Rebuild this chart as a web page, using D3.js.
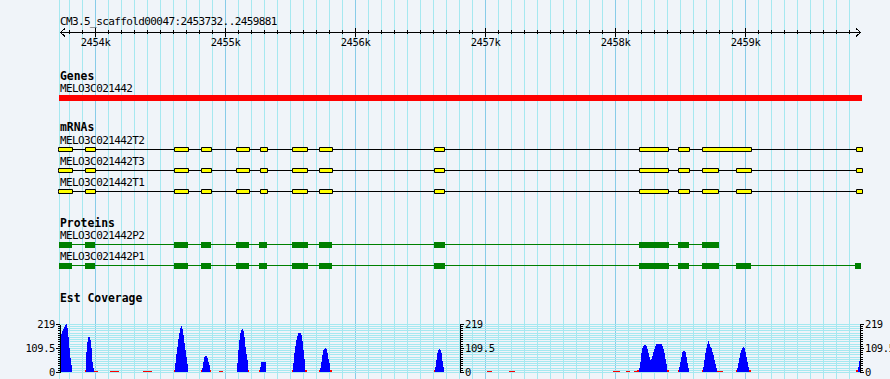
<!DOCTYPE html>
<html><head><meta charset="utf-8">
<script src="https://cdn.jsdelivr.net/npm/d3@7"></script>
<style>
html,body{margin:0;padding:0;background:#f0f4f9;}
svg{display:block;}
text{font-family:"DejaVu Sans Mono","Liberation Mono",monospace;}
</style></head><body>
<svg id="c" width="890" height="379"></svg>
<script>
// ---------- data ----------
const regionName = "CM3.5_scaffold00047";
const regionStart = 2453732, regionEnd = 2459881;
const majorTicks = [2454000, 2455000, 2456000, 2457000, 2458000, 2459000];
const minorStep = 100;

const geneNames = ["MELO3C021442"];
const geneSpans = [[2453717, 2459897]];

const mrnaNames = ["MELO3C021442T2", "MELO3C021442T3", "MELO3C021442T1"];
const mrnaSpans = [[2453717, 2459895], [2453717, 2459895], [2453717, 2459895]];
const exonsT2 = [[2453717,2453814],[2453924,2453994],[2454609,2454707],[2454815,2454884],[2455089,2455177],[2455270,2455316],[2455520,2455628],[2455725,2455815],[2456609,2456680],[2458186,2458404],[2458490,2458563],[2458675,2459040],[2459856,2459895]];
const exonsT3 = [[2453717,2453814],[2453924,2453994],[2454609,2454707],[2454815,2454884],[2455089,2455177],[2455270,2455316],[2455520,2455628],[2455725,2455815],[2456609,2456680],[2458186,2458404],[2458490,2458563],[2458675,2458790],[2458937,2459040],[2459856,2459895]];
const exonsT1 = [[2453717,2453814],[2453924,2453994],[2454609,2454707],[2454815,2454884],[2455089,2455177],[2455270,2455316],[2455520,2455628],[2455725,2455815],[2456609,2456680],[2458186,2458404],[2458490,2458563],[2458675,2458790],[2458937,2459040],[2459856,2459895]];

const proteinNames = ["MELO3C021442P2", "MELO3C021442P1"];
const proteinSpans = [[2453720, 2458796], [2453720, 2459890]];
const cdsP2 = [[2453720,2453817],[2453917,2453994],[2454602,2454709],[2454809,2454886],[2455079,2455179],[2455256,2455317],[2455510,2455633],[2455717,2455818],[2456603,2456687],[2458179,2458410],[2458479,2458564],[2458665,2458796]];
const cdsP1 = [[2453720,2453817],[2453917,2453994],[2454602,2454709],[2454809,2454886],[2455079,2455179],[2455256,2455317],[2455510,2455633],[2455717,2455818],[2456603,2456687],[2458179,2458410],[2458479,2458564],[2458665,2458796],[2458927,2459043],[2459843,2459890]];

// EST coverage: runs of consecutive bins (bin width in bp)
const coverageMax = 219;
const coverageBin = 7.696;
const coverageRunStarts = [2453724, 2453917, 2454109, 2454363, 2454602, 2454809, 2454948, 2455086, 2455256, 2455510, 2455718, 2456603, 2457011, 2457180, 2457980, 2458080, 2458142, 2458480, 2458665, 2458927, 2459850];
const coverageRunValues = [
  [173,173,188,196,204,214,219,199,161,108,62,32],
  [8,93,138,158,161,146,108,47,18,6,6,6,6],
  [5,5,5,5,5,5,5,5,5],
  [5,5,5,5,5,5,5,5,5],
  [8,40,80,115,150,176,200,210,195,170,131,100,70,35],
  [8,17,47,67,73,73,63,45,30,10],
  [5,5,5,5],
  [41,100,146,176,190,196,185,160,115,80,55,10],
  [8,24,46,46,46,46,46],
  [8,40,85,120,146,165,176,178,176,169,140,100,60,10,10],
  [8,17,47,78,100,105,108,105,85,60,40,8,8],
  [8,24,55,85,100,105,100,85,50,24],
  [5,5,5,5,5],
  [5,5,5,5,5,5],
  [5,5,5,5,5,5,5],
  [5,5,5,5],
  [5,5,5,10,10,17,47,85,108,118,124,125,120,105,85,68,55,60,75,90,105,118,128,128,128,128,128,128,120,105,85,60,35,10,10],
  [8,24,47,70,90,96,96,90,70,40,17],
  [8,24,55,85,108,126,143,126,115,108,93,78,55,35,17,5,5,5,5,5,5],
  [8,17,40,65,85,100,108,114,108,93,70,47,24,10,10],
  [8,8,24,50,78]
];
const coverageTickLabels = [0, 109.5, 219];
const lowCoverageLimit = 12;

// ---------- drawing ----------
const W = 890, H = 379;
const BG = "#f0f4f9", GRID = "#a6e8f0", GRID_MAJOR = "#88cce8";
const FS = 11, LS = "-0.6px";
const svg = d3.select("#c").attr("shape-rendering", "crispEdges");
const x = d3.scaleLinear().domain([regionStart, regionEnd]).range([61, 860]);
const px = v => Math.floor(x(v));
const clipX = v => Math.max(59, Math.min(862, v));

svg.append("rect").attr("width", W).attr("height", H).attr("fill", BG);

// vertical grid
const minorTicks = d3.range(Math.ceil(regionStart / minorStep) * minorStep, regionEnd, minorStep);
const grid = svg.append("g");
grid.append("line").attr("x1", px(regionStart) - 1.5).attr("x2", px(regionStart) - 1.5)
  .attr("y1", 0).attr("y2", H).attr("stroke", GRID);
grid.selectAll("line.mn").data(minorTicks.filter(d => d % 1000 !== 0)).join("line").attr("class", "mn")
  .attr("x1", d => px(d) + 0.5).attr("x2", d => px(d) + 0.5)
  .attr("y1", 0).attr("y2", H).attr("stroke", GRID);
grid.selectAll("line.mj").data(majorTicks).join("line").attr("class", "mj")
  .attr("x1", d => px(d) + 0.5).attr("x2", d => px(d) + 0.5)
  .attr("y1", 0).attr("y2", H).attr("stroke", GRID_MAJOR);

// coverage scale + horizontal grid
const y = d3.scaleLinear().domain([0, coverageMax]).range([372, 324]);
const covGridVals = d3.range(0, coverageMax, 10).concat([coverageMax]);
svg.append("g").selectAll("line").data(covGridVals).join("line")
  .attr("x1", 60).attr("x2", 862)
  .attr("y1", d => Math.round(y(d)) + 0.5).attr("y2", d => Math.round(y(d)) + 0.5)
  .attr("stroke", GRID);

// ruler
const rY = 32.5;
const ruler = svg.append("g");
ruler.append("text").attr("x", 60).attr("y", 25).attr("font-size", FS).attr("letter-spacing", LS)
  .text(`${regionName}:${regionStart}..${regionEnd}`);
ruler.append("line").attr("x1", 60).attr("x2", 861).attr("y1", rY).attr("y2", rY).attr("stroke", "#000");
ruler.append("path").attr("d", `M65,${rY - 4}L60.5,${rY}L65,${rY + 4}`).attr("fill", "none").attr("stroke", "#000");
ruler.append("path").attr("d", `M856,${rY - 4}L860.5,${rY}L856,${rY + 4}`).attr("fill", "none").attr("stroke", "#000");
ruler.selectAll("line.mt").data(minorTicks.filter(d => d % 1000 !== 0)).join("line").attr("class", "mt")
  .attr("x1", d => px(d) + 0.5).attr("x2", d => px(d) + 0.5)
  .attr("y1", 30).attr("y2", 34).attr("stroke", "#000");
const rAxis = ruler.append("g").attr("transform", `translate(0,${rY})`)
  .call(d3.axisBottom(x).tickValues(majorTicks).tickSizeOuter(0).tickSizeInner(4)
    .tickFormat(d => (d / 1000) + "k"));
rAxis.select(".domain").remove();
rAxis.selectAll(".tick").attr("transform", d => `translate(${px(d) + 0.5},0)`);
rAxis.selectAll(".tick line").attr("y1", -4.5).attr("y2", 4).attr("stroke", "#000");
rAxis.selectAll(".tick text").attr("y", 13.5).attr("dy", null)
  .attr("font-family", '"DejaVu Sans Mono",monospace').attr("font-size", 10.5)
  .attr("letter-spacing", "-0.4px").attr("fill", "#000");
rAxis.attr("font-family", null).attr("font-size", null);

// track labels
function label(txt, yy, bold) {
  svg.append("text").attr("x", 60).attr("y", yy)
    .attr("font-size", bold ? 11.4 : FS).attr("letter-spacing", bold ? null : LS)
    .attr("font-weight", bold ? "bold" : null).text(txt);
}
label("Genes", 80, true);
label("mRNAs", 131, true);
label("Proteins", 226.7, true);
label("Est Coverage", 301.5, true);

// genes
geneNames.forEach((n, i) => {
  label(n, 92, false);
  const [s, e] = geneSpans[i];
  svg.append("rect").attr("x", clipX(x(s))).attr("width", clipX(x(e)) - clipX(x(s)))
    .attr("y", 95).attr("height", 6).attr("fill", "#ff0000");
});

// mRNAs
const mrnaExons = [exonsT2, exonsT3, exonsT1];
const mrnaLabelY = [143.5, 164.7, 185.7];
const mrnaLineY = [149.5, 170.5, 191.5];
mrnaNames.forEach((n, i) => {
  label(n, mrnaLabelY[i], false);
  const yc = mrnaLineY[i];
  const [s, e] = mrnaSpans[i];
  svg.append("line").attr("x1", clipX(x(s))).attr("x2", Math.min(860, x(e)))
    .attr("y1", yc).attr("y2", yc).attr("stroke", "#000");
  svg.append("g").selectAll("path").data(mrnaExons[i]).join("path")
    .attr("d", d => {
      const x0 = Math.round(clipX(x(d[0]))) + 0.5, x1 = Math.round(Math.min(861.5, x(d[1]))) + 0.5;
      const t = yc - 2, b = yc + 2;
      const p = x(d[0]) < regionStart ? 0 : 2;
      return `M${x0 - 1},${yc}L${x0 + p - 1},${t}L${x1},${t}L${x1},${b}L${x0 + p - 1},${b}Z`;
    })
    .attr("fill", "#ffff00").attr("stroke", "#000").attr("stroke-width", 1)
    .attr("shape-rendering", "auto");
});

// proteins
const proteinCds = [cdsP2, cdsP1];
const protLabelY = [239, 260];
const protLineY = [244.5, 265.5];
proteinNames.forEach((n, i) => {
  label(n, protLabelY[i], false);
  const yc = protLineY[i];
  const [s, e] = proteinSpans[i];
  svg.append("line").attr("x1", clipX(x(s))).attr("x2", clipX(x(e)))
    .attr("y1", yc).attr("y2", yc).attr("stroke", "#008000");
  svg.append("g").selectAll("rect").data(proteinCds[i]).join("rect")
    .attr("x", d => Math.round(clipX(x(d[0]))))
    .attr("width", d => Math.round(clipX(x(d[1]))) - Math.round(clipX(x(d[0]))))
    .attr("y", yc - 2.5).attr("height", 6).attr("fill", "#008000");
});

// coverage bars
const bins = [];
coverageRunStarts.forEach((st, r) => {
  coverageRunValues[r].forEach((v, k) => {
    bins.push({ s: st + k * coverageBin, e: st + (k + 1) * coverageBin, v });
  });
});
svg.append("g").selectAll("rect").data(bins).join("rect")
  .attr("x", d => Math.round(x(d.s)))
  .attr("width", d => Math.max(1, Math.round(x(d.e)) - Math.round(x(d.s))))
  .attr("y", d => y(d.v))
  .attr("height", d => y(0) - y(d.v))
  .attr("fill", d => d.v < lowCoverageLimit ? "#ff0000" : "#0000ff");

// coverage axes
const minorCov = d3.range(0, coverageMax, 10);
function covAxis(xPos, side) {
  const g = svg.append("g").attr("transform", `translate(${xPos},0)`);
  const mk = side === "left" ? d3.axisLeft : d3.axisRight;
  const gm = g.append("g").call(mk(y).tickValues(minorCov).tickSizeOuter(0).tickSizeInner(2.5).tickFormat(""));
  const gM = g.append("g").call(mk(y).tickValues(coverageTickLabels).tickSizeOuter(0).tickSizeInner(4).tickPadding(1)
    .tickFormat(d => d === 109.5 ? "109.5" : d));
  [gm, gM].forEach(a => {
    a.attr("font-family", null).attr("font-size", null);
    a.selectAll("path.domain").attr("stroke", "#000");
    a.selectAll(".tick line").attr("stroke", "#000");
  });
  gM.selectAll(".tick text").attr("font-family", '"DejaVu Sans Mono",monospace')
    .attr("font-size", 10.5).attr("letter-spacing", "-0.4px").attr("fill", "#000").attr("dy", "0.36em");
}
covAxis(60, "left");
covAxis(460, "right");
covAxis(860, "right");
</script>
</body></html>
